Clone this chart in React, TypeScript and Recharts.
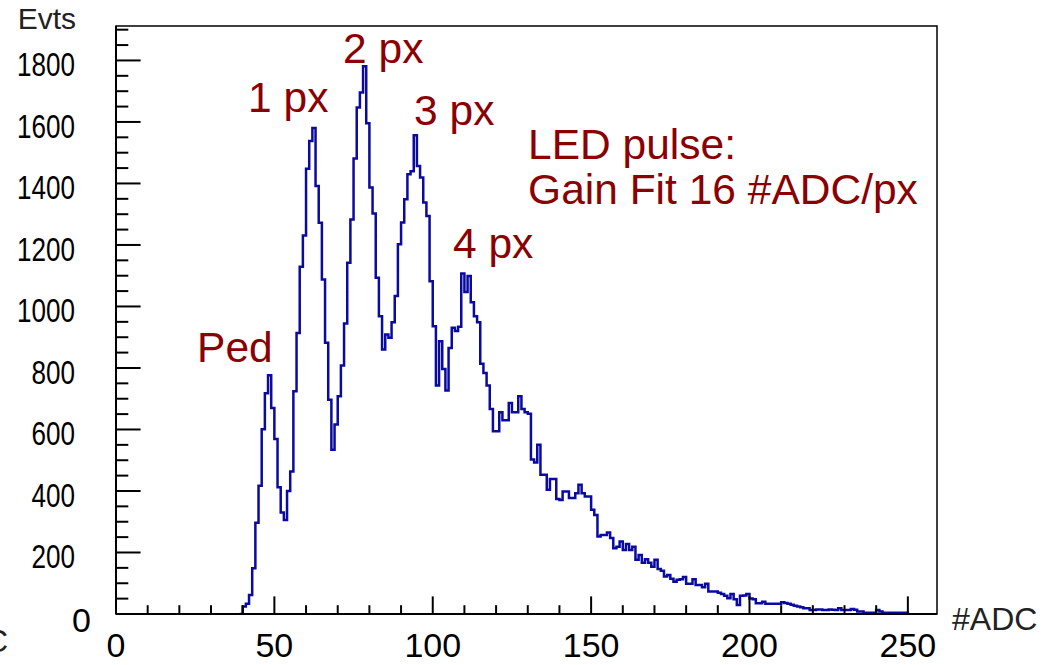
import { ComposedChart, Line, XAxis, YAxis, ReferenceArea, ReferenceDot } from 'recharts';

// histogram: one bin per ADC count, first entry is bin 39
const firstBin = 39;
const counts = [
  0, 24, 33, 62, 149, 297, 417, 601, 718, 776, 670,
  569, 412, 330, 306, 400, 463, 724, 914, 1129, 1231,
  1448, 1538, 1580, 1392, 1272, 1088, 882, 697, 534, 616,
  708, 808, 945, 1142, 1283, 1481, 1647, 1696, 1781, 1596,
  1387, 1302, 1093, 968, 860, 909, 898, 949, 1034, 1202,
  1273, 1349, 1430, 1440, 1557, 1457, 1419, 1338, 1294, 1082,
  936, 743, 887, 797, 727, 865, 931, 920, 934, 1107,
  1047, 1099, 1014, 968, 949, 814, 784, 743, 667, 594,
  594, 656, 630, 630, 686, 656, 656, 708, 667, 656,
  651, 502, 493, 550, 453, 453, 404, 439, 439, 374,
  371, 398, 398, 377, 377, 393, 420, 393, 382, 382,
  339, 322, 252, 257, 257, 265, 247, 214, 219, 236,
  208, 228, 208, 219, 176, 192, 167, 178, 167, 154,
  176, 146, 141, 122, 127, 115, 105, 111, 113, 120,
  98, 98, 113, 94, 94, 87, 98, 73, 73, 73,
  69, 65, 59, 51, 65, 48, 29, 59, 60, 65,
  50, 48, 35, 35, 40, 33, 33, 33, 33, 33,
  38, 36, 33, 30, 27, 24, 22, 19, 19, 13,
  13, 15, 15, 13, 13, 15, 14, 13, 19, 13,
  13, 13, 16, 14, 8, 8, 4, 4, 4, 4,
  13, 8, 4, 4, 4, 4, 4, 4, 4, 4,
  0,
];

const xTicks = Array.from({ length: 26 }, (_, i) => i * 10);
const yTicks = Array.from({ length: 39 }, (_, i) => i * 50);
const xMax = 259.2;
const yMax = 1912;

const notes = [
  { text: 'Ped', adc: 25.6, evts: 820 },
  { text: '1 px', adc: 41.7, evts: 1632 },
  { text: '2 px', adc: 71.7, evts: 1792 },
  { text: '3 px', adc: 94.1, evts: 1590 },
  { text: '4 px', adc: 106.4, evts: 1158 },
  { text: 'LED pulse:', adc: 130.1, evts: 1480 },
  { text: 'Gain Fit 16 #ADC/px', adc: 130.1, evts: 1334 },
];

const data = counts.map((v, i) => ({ adc: firstBin + i, evts: v }));

const font = '"Liberation Sans", Arial, sans-serif';

const XTick = ({ x, y, payload }: any) => {
  const v = payload.value;
  const major = v % 50 === 0;
  return (
    <g>
      <line x1={x} y1={y} x2={x} y2={y - (major ? 17.6 : 8.8)} stroke="#000" strokeWidth={2} />
      {major && (
        <text x={x} y={y + 43} textAnchor="middle" fontSize={34} fontFamily={font} fill="#000">
          {v}
        </text>
      )}
    </g>
  );
};

const YTick = ({ x, y, payload }: any) => {
  const v = payload.value;
  const major = v % 200 === 0;
  const label = String(v);
  return (
    <g>
      <line x1={x} y1={y} x2={x + (major ? 24.6 : 12.3)} y2={y} stroke="#000" strokeWidth={2} />
      {major && v !== 0 && (
        <text x={x - 41} y={y + 16} textAnchor="end" fontSize={34} fontFamily={font} fill="#000"
          textLength={label.length * 14.5} lengthAdjust="spacingAndGlyphs">
          {label}
        </text>
      )}
      {v === 0 && (
        <text x={x - 25} y={y + 18} textAnchor="end" fontSize={34} fontFamily={font} fill="#000">
          0
        </text>
      )}
    </g>
  );
};

const NoteShape = (text: string) => (props: any) => (
  <text x={props.cx} y={props.cy} fontSize={42.5} fontFamily={font} fill="#8b0000">
    {text}
  </text>
);

export default function App() {
  return (
    <div style={{ position: 'absolute', left: 0, top: 0, width: 1057, height: 665, background: '#fff', overflow: 'hidden' }}>
      <ComposedChart width={1057} height={665} data={data} margin={{ top: 26, right: 120, left: 56, bottom: 21 }}>
        <XAxis
          dataKey="adc"
          type="number"
          domain={[0, xMax]}
          allowDataOverflow
          ticks={xTicks}
          interval={0}
          tickSize={0}
          tickMargin={0}
          height={30}
          axisLine={{ stroke: '#000', strokeWidth: 2 }}
          tickLine={false}
          tick={<XTick />}
        />
        <YAxis
          type="number"
          domain={[0, yMax]}
          allowDataOverflow
          ticks={yTicks}
          interval={0}
          tickSize={0}
          tickMargin={0}
          width={60}
          axisLine={{ stroke: '#000', strokeWidth: 2 }}
          tickLine={false}
          tick={<YTick />}
        />
        <ReferenceArea x1={0} x2={xMax} y1={0} y2={yMax} fill="none" stroke="#000" strokeWidth={1.5} ifOverflow="visible" />
        <Line
          type="stepAfter"
          dataKey="evts"
          stroke="#0a0aa0"
          strokeWidth={2.5}
          dot={false}
          isAnimationActive={false}
        />
        {notes.map((n) => (
          <ReferenceDot key={n.text} x={n.adc} y={n.evts} r={0} ifOverflow="visible" shape={NoteShape(n.text)} />
        ))}
      </ComposedChart>
      <div style={{ position: 'absolute', right: 1057 - 76, top: 2, fontFamily: font, fontSize: 30, color: '#222', lineHeight: '34px' }}>
        Evts
      </div>
      <div style={{ position: 'absolute', left: 952, top: 601, fontFamily: font, fontSize: 32, color: '#222', lineHeight: '36px' }}>
        #ADC
      </div>
      <div style={{ position: 'absolute', right: 1057 - 8, top: 623, fontFamily: font, fontSize: 32, color: '#222', lineHeight: '36px', whiteSpace: 'nowrap' }}>
        #ADC
      </div>
    </div>
  );
}
